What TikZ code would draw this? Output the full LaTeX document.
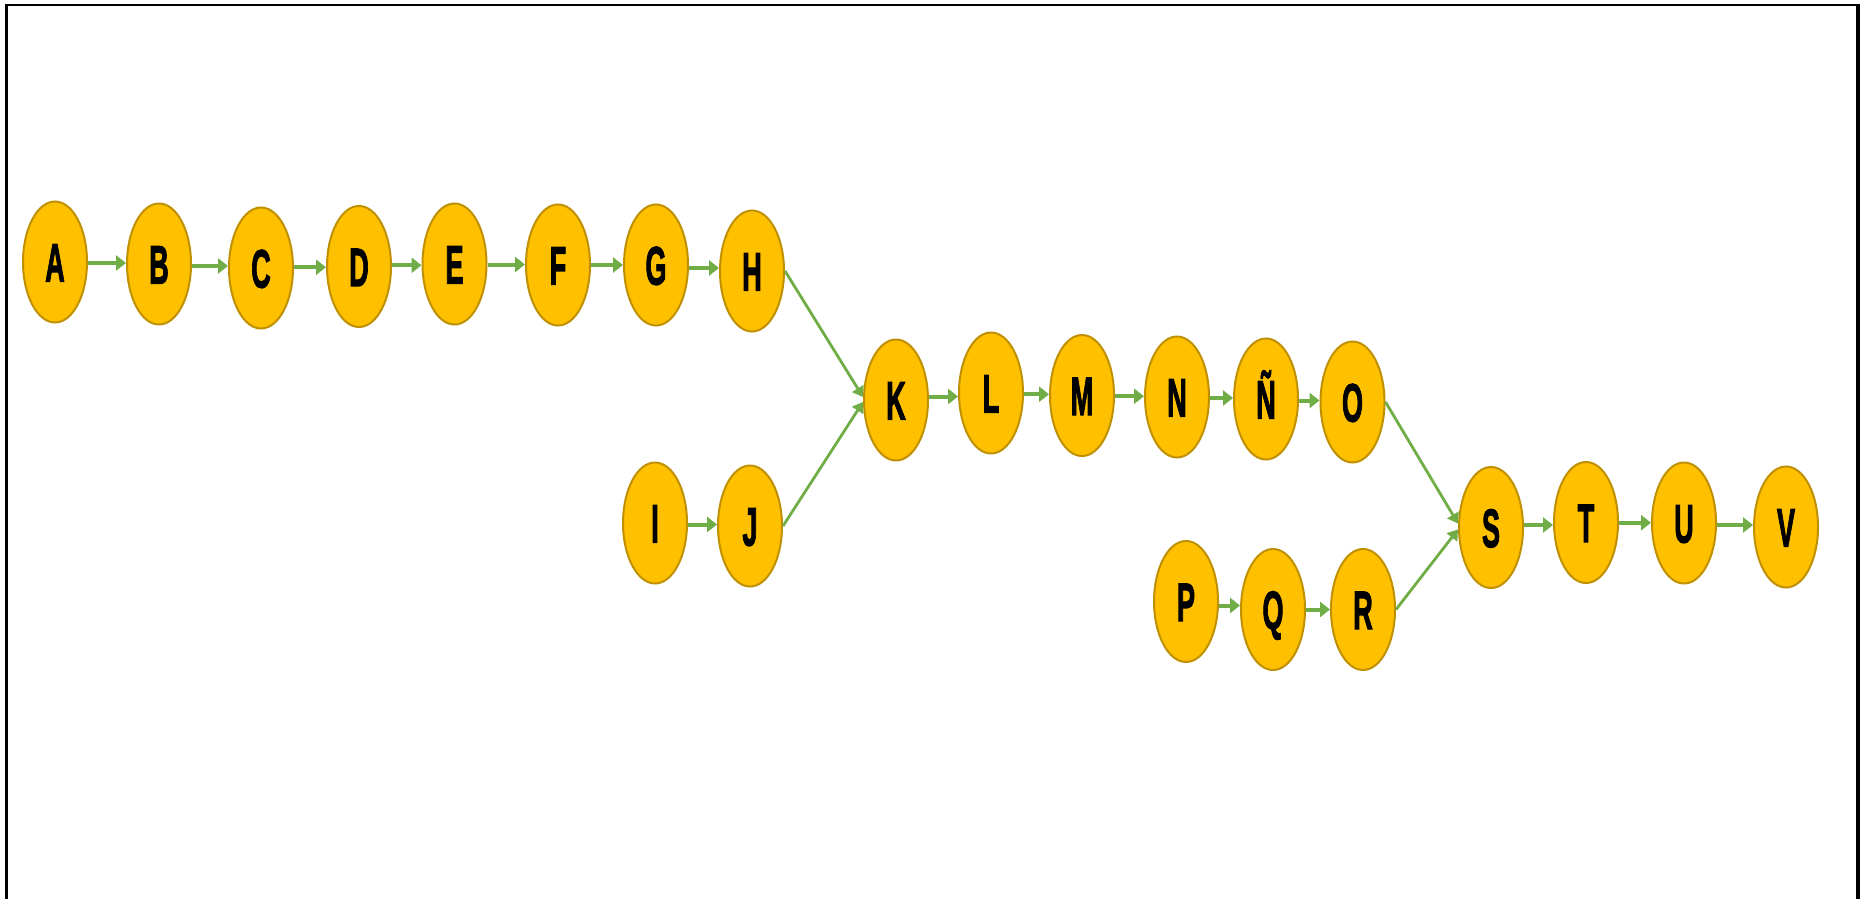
\documentclass[tikz,border=0pt]{standalone}
\usepackage{fontspec}
\usepackage{graphicx}
\setmainfont{Liberation Sans}
\newfontfamily\lblfont{Liberation Sans}[BoldFeatures={FakeBold=2.5}]
\usetikzlibrary{shapes.geometric,arrows.meta,calc}
\definecolor{nodefill}{HTML}{FFC000}
\definecolor{nodeedge}{HTML}{BF9000}
\definecolor{flow}{HTML}{70AD47}
\newcommand{\narrowlbl}[1]{\scalebox{0.5}[1]{\lblfont\bfseries #1}}
\tikzset{
  task/.style={ellipse, draw=nodeedge, line width=2pt, fill=nodefill,
    minimum width=64pt, minimum height=121pt, inner sep=0pt,
    text height=39pt, text depth=0pt,
    font=\fontsize{54}{60}\selectfont},
  link/.style={draw=flow, line width=4pt, -{Triangle[length=10pt,width=15pt]}},
  merge/.style={draw=flow, line width=2.8pt, -{Triangle[length=10pt,width=13pt]}}
}
\begin{document}
\begin{tikzpicture}[x=1pt,y=-1pt]
\useasboundingbox (0,0) rectangle (1865,899);
% frame
\draw[line width=2pt] (5,5) -- (1860,5);
\draw[line width=3pt] (6.5,4) -- (6.5,905);
\draw[line width=4pt] (1858,4) -- (1858,905);
% nodes
\node[task] (A) at (55,262) {\narrowlbl{A}};
\node[task] (B) at (159,264) {\narrowlbl{B}};
\node[task] (C) at (261,268) {\narrowlbl{C}};
\node[task] (D) at (359,266.5) {\narrowlbl{D}};
\node[task] (E) at (454.5,264) {\narrowlbl{E}};
\node[task] (F) at (558,265) {\narrowlbl{F}};
\node[task] (G) at (656,265) {\narrowlbl{G}};
\node[task] (H) at (752,271) {\narrowlbl{H}};
\node[task] (I) at (655,523) {\narrowlbl{I}};
\node[task] (J) at (750,526) {\narrowlbl{J}};
\node[task] (K) at (896,400) {\narrowlbl{K}};
\node[task] (L) at (991,393) {\narrowlbl{L}};
\node[task] (M) at (1082,395.5) {\narrowlbl{M}};
\node[task] (N) at (1177,397) {\narrowlbl{N}};
\node[task] (Nt) at (1266,399) {\narrowlbl{Ñ}};
\node[task] (O) at (1352.5,402) {\narrowlbl{O}};
\node[task] (P) at (1186,601.5) {\narrowlbl{P}};
\node[task] (Q) at (1273,609.5) {\narrowlbl{Q}};
\node[task] (R) at (1363,609.5) {\narrowlbl{R}};
\node[task] (S) at (1491,527.5) {\narrowlbl{S}};
\node[task] (T) at (1586,522.5) {\narrowlbl{T}};
\node[task] (U) at (1684,523) {\narrowlbl{U}};
\node[task] (V) at (1786,527) {\narrowlbl{V}};
% sequential links, drawn level between neighbours
\foreach \a/\b in {A/B,B/C,C/D,D/E,E/F,F/G,G/H,I/J,K/L,L/M,M/N,N/Nt,Nt/O,P/Q,Q/R,S/T,T/U,U/V}{
  \coordinate (mid) at ($(\a.east)!0.5!(\b.west)$);
  \draw[link] (mid -| \a.east) -- (mid -| \b.west);
}
% merging links
\draw[merge] (H.east) -- ([yshift=3pt]K.west);
\draw[merge] (J.east) -- ([yshift=-2pt]K.west);
\draw[merge] (O.east) -- ([yshift=4pt]S.west);
\draw[merge] (R.east) -- ([yshift=-2pt]S.west);
\end{tikzpicture}
\end{document}
